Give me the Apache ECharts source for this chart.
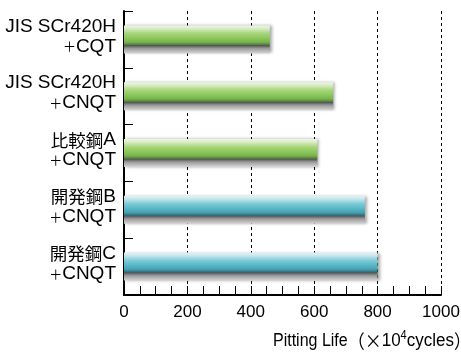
<!DOCTYPE html>
<html><head><meta charset="utf-8">
<script src="https://cdn.jsdelivr.net/npm/echarts@6/dist/echarts.min.js"></script>
<style>html,body{margin:0;padding:0;background:#fff}#c{width:461px;height:352px}</style>
</head><body><div id="c"></div>
<script>
const categories = ['JIS SCr420H\n＋CQT', 'JIS SCr420H\n＋CNQT', '比較鋼A\n＋CNQT', '開発鋼B\n＋CNQT', '開発鋼C\n＋CNQT'];
const values = [460, 660, 610, 760, 800];
const barKinds = ['green', 'green', 'green', 'teal', 'teal'];
const xTicks = [0, 200, 400, 600, 800, 1000];

const FONT = '"Liberation Sans", Arial, sans-serif';
const CJK = '"Noto Sans CJK JP", sans-serif';
function grad(kind) {
  const c = kind === 'green'
    ? ['#eef6e6', '#d6ebc2', '#a8d67c', '#8cc85c', '#78b34c', '#4f7a3c']
    : ['#e4f3f5', '#c4e4ea', '#7ccbd7', '#5ab7c7', '#46a0b0', '#2e6e78'];
  return new echarts.graphic.LinearGradient(0, 0, 0, 1, [
    {offset: 0, color: c[0]},
    {offset: 0.12, color: c[1]},
    {offset: 0.28, color: c[2]},
    {offset: 0.45, color: c[3]},
    {offset: 0.6, color: c[4]},
    {offset: 0.7, color: c[5]},
    {offset: 0.72, color: '#555'},
    {offset: 0.82, color: '#999'},
    {offset: 1, color: '#d6d6d6'}
  ]);
}
function richLabel(s) {
  return s.split('\n').map(line => {
    let out = '', cur = '', curK = null;
    for (const ch of line) {
      const k = ch === '＋' ? 'p' : (/[\u3000-\u9fff]/.test(ch) ? 'c' : 'l');
      if (k !== curK && cur) { out += '{' + curK + '|' + cur + '}'; cur = ''; }
      curK = k; cur += ch;
    }
    if (cur) out += '{' + curK + '|' + cur + '}';
    return out;
  }).join('\n');
}
const chart = echarts.init(document.getElementById('c'));
chart.setOption({
  animation: false,
  grid: {left: 124, right: 20, top: 11, bottom: 57, outerBoundsMode: 'none', containLabel: false},
  xAxis: {
    type: 'value', min: 0, max: 1000, interval: 200,
    axisLine: {show: true, lineStyle: {color: '#000', width: 2}},
    axisTick: {show: true, inside: true, length: 9, lineStyle: {color: '#000', width: 1}},
    minorTick: {show: true, splitNumber: 4, length: 9, lineStyle: {color: '#000', width: 1}},
    splitLine: {show: true, lineStyle: {color: '#000', type: [3, 3], width: 1}},
    axisLabel: {fontSize: 17, color: '#000', fontFamily: FONT, margin: 9,
      formatter: v => xTicks.includes(v) ? String(v) : ''}
  },
  yAxis: {
    type: 'category', data: categories, inverse: true,
    axisLine: {show: true, lineStyle: {color: '#000', width: 2}},
    axisTick: {show: true, inside: true, length: 9, lineStyle: {color: '#000', width: 1}},
    axisLabel: {color: '#000', margin: 8, lineHeight: 20, align: 'right', padding: [0, 0, 6, 0],
      formatter: richLabel,
      rich: {
        l: {fontSize: 19, fontFamily: FONT, color: '#000', lineHeight: 20},
        c: {fontSize: 17.5, fontFamily: CJK, color: '#000', lineHeight: 20},
        p: {fontSize: 13, fontFamily: CJK, color: '#000', lineHeight: 20}
      }}
  },
  series: [{
    type: 'bar', barWidth: 28,
    data: values.map((v, i) => ({value: v, itemStyle: {color: grad(barKinds[i])}})),
    itemStyle: {shadowColor: 'rgba(0,0,0,0.35)', shadowBlur: 3, shadowOffsetX: 2, shadowOffsetY: 0}
  }],
  graphic: [{
    type: 'text', x: 273, y: 330, scaleY: 1.1,
    style: {
      text: '{a|Pitting Life}{p|（×}{b|10}{s|4}{b|cycles}{p|）}',
      rich: {
        a: {fontSize: 16, fontFamily: FONT, fill: '#000', verticalAlign: 'bottom', lineHeight: 18},
        b: {fontSize: 17, fontFamily: FONT, fill: '#000', verticalAlign: 'bottom', lineHeight: 18},
        p: {fontSize: 17, fontFamily: CJK, fill: '#000', verticalAlign: 'bottom', lineHeight: 18},
        s: {fontSize: 11, fontFamily: FONT, fill: '#000', verticalAlign: 'top', lineHeight: 18, padding: [0, 0, 6, 0]}
      }
    }
  }]
});
</script></body></html>
